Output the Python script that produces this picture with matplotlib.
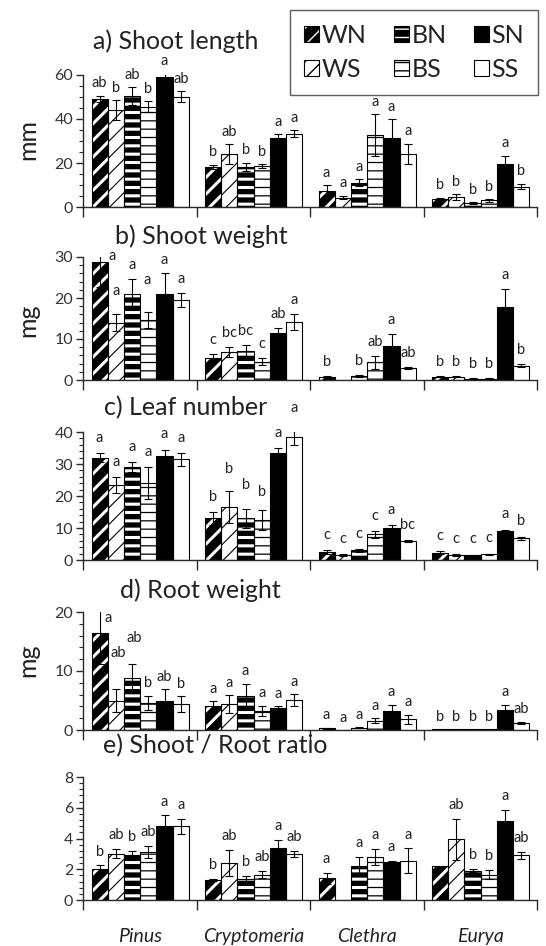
import matplotlib
matplotlib.use('Agg')
import matplotlib.pyplot as plt
from matplotlib.patches import Patch
from matplotlib.legend_handler import HandlerTuple
from matplotlib.ticker import MultipleLocator
import matplotlib.transforms as mtransforms

plt.rcParams['font.family'] = ['Lato', 'DejaVu Sans']

# ---------------- data ----------------
species = ['Pinus', 'Cryptomeria', 'Clethra', 'Eurya']
treatments = ['WN', 'WS', 'BN', 'BS', 'SN', 'SS']

# a) Shoot length (mm)  rows = species, cols = treatments
shoot_len = [[49, 44, 50.5, 45.5, 59, 50],
             [18.2, 24, 18.2, 18.5, 31.2, 33.4],
             [7.2, 4.3, 11.1, 32.7, 31.5, 24.2],
             [3.8, 4.6, 1.8, 3.0, 19.6, 9.3]]
shoot_len_err = [[1.5, 4.5, 4, 2.5, 1.5, 2.5],
                 [1, 4.5, 2, 1, 1.8, 1.5],
                 [2.6, 0.8, 1.5, 9.5, 8.4, 4.6],
                 [0.5, 1.2, 0.3, 0.5, 3.8, 1.3]]
shoot_len_lab = [['ab', 'b', 'ab', 'b', 'a', 'ab'],
                 ['b', 'ab', 'b', 'b', 'a', 'a'],
                 ['a', 'a', 'a', 'a', 'a', 'a'],
                 ['b', 'b', 'b', 'b', 'a', 'b']]

# b) Shoot weight (mg)
shoot_wt = [[28.8, 14, 20.9, 14.6, 21, 19.6],
            [5.3, 6.8, 7.1, 4.5, 11.4, 14.2],
            [0.8, 0, 1.0, 4.3, 8.4, 2.9],
            [0.8, 0.8, 0.3, 0.3, 17.7, 3.5]]
shoot_wt_err = [[6, 2, 3.7, 2, 5, 1.7],
                [1, 1.2, 1.5, 0.8, 1.3, 2],
                [0.2, 0, 0.2, 1.6, 2.8, 0.3],
                [0.1, 0.1, 0.1, 0.1, 4.6, 0.4]]
shoot_wt_lab = [['a', 'a', 'a', 'a', 'a', 'a'],
                ['c', 'bc', 'bc', 'c', 'ab', 'a'],
                ['b', '', 'b', 'ab', 'a', 'ab'],
                ['b', 'b', 'b', 'b', 'a', 'b']]

# c) Leaf number
leaf = [[32, 23.5, 29, 24, 32.5, 31.5],
        [13, 16.5, 13, 12.5, 33.5, 38.5],
        [2.5, 1.5, 3, 8, 10, 6],
        [2.3, 1.5, 1.5, 1.8, 9, 6.8]]
leaf_err = [[1.5, 2.5, 1.5, 5, 2, 2],
            [2, 5, 3, 3, 1.5, 2.5],
            [0.5, 0.3, 0.4, 1, 1, 0.3],
            [0.5, 0.3, 0.2, 0.2, 0.5, 0.5]]
leaf_lab = [['a', 'a', 'a', 'a', 'a', 'a'],
            ['b', 'b', 'b', 'b', 'a', 'a'],
            ['c', 'c', 'c', 'c', 'a', 'bc'],
            ['c', 'c', 'c', 'c', 'a', 'b']]

# d) Root weight (mg)
root = [[16.5, 5, 8.8, 4.6, 4.9, 4.4],
        [4.1, 4.4, 5.8, 3.2, 3.7, 5.1],
        [0.3, 0, 0.4, 1.6, 3.2, 1.8],
        [0.1, 0.1, 0.1, 0.1, 3.4, 1.2]]
root_err = [[5.3, 2, 2.4, 1.2, 2, 1.3],
            [0.8, 1.5, 2, 0.9, 0.3, 1],
            [0.1, 0, 0.1, 0.4, 1.1, 0.8],
            [0, 0, 0, 0, 0.9, 0.2]]
root_lab = [['a', 'ab', 'ab', 'b', 'ab', 'b'],
            ['a', 'a', 'a', 'a', 'a', 'a'],
            ['a', 'a', 'a', 'a', 'a', 'a'],
            ['b', 'b', 'b', 'b', 'a', 'ab']]

# e) Shoot / Root ratio
ratio = [[2.0, 3.0, 2.9, 3.1, 4.8, 4.8],
         [1.3, 2.4, 1.35, 1.65, 3.4, 3.0],
         [1.4, 0, 2.2, 2.8, 2.45, 2.55],
         [2.2, 3.95, 1.9, 1.65, 5.15, 2.9]]
ratio_err = [[0.25, 0.3, 0.3, 0.4, 0.7, 0.5],
             [0.05, 0.85, 0.2, 0.25, 0.5, 0.2],
             [0.35, 0, 0.6, 0.5, 0.1, 0.8],
             [0, 1.35, 0.1, 0.3, 0.7, 0.25]]
ratio_lab = [['b', 'ab', 'b', 'ab', 'a', 'a'],
             ['b', 'ab', 'b', 'ab', 'a', 'ab'],
             ['a', '', 'a', 'a', 'a', 'a'],
             ['', 'ab', 'b', 'b', 'a', 'ab']]

# ---------------- styling / layout ----------------
W, H = 546, 946
fig = plt.figure(figsize=(W / 100, H / 100), dpi=100)
fig.patch.set_facecolor('white')

def fx(px):
    return px / W

def fy(py):
    return 1 - py / H

AXC = '#2a2a2a'
TXT = '#222222'
styles = {
    'WN': dict(fc='black', hatch='//', hc='white', hlw=2.2),
    'WS': dict(fc='white', hatch='//', hc='black', hlw=0.8),
    'BN': dict(fc='black', hatch='--', hc='white', hlw=2.2),
    'BS': dict(fc='white', hatch='--', hc='black', hlw=0.9),
    'SN': dict(fc='black', hatch=None, hc='black', hlw=0.8),
    'SS': dict(fc='white', hatch=None, hc='white', hlw=0.8),
}

BAR_W = 0.143
BAR_START = 0.075
LAB_FS = 10.5

# panel: key, title, ylabel, vals, errs, labs, ymax, major, minor, y0px, ytoppx, title (x,y) px, ylabel y px, label offset pt
panels = [
    ('a', 'a) Shoot length', 'mm', shoot_len, shoot_len_err, shoot_len_lab, 60, 20, 5, 207, 75, (93, 41), 140, 9),
    ('b', 'b) Shoot weight', 'mg', shoot_wt, shoot_wt_err, shoot_wt_lab, 30, 10, 2, 380, 257, (115, 236), 320, 10),
    ('c', 'c) Leaf number', None, leaf, leaf_err, leaf_lab, 40, 10, 2, 560, 432, (104, 408), None, 11),
    ('d', 'd) Root weight', 'mg', root, root_err, root_lab, 20, 10, 2, 730, 612, (120, 590), 660, 9),
    ('e', 'e) Shoot / Root ratio', None, ratio, ratio_err, ratio_lab, 8, 2, 0.4, 900, 777, (103, 746), None, 10),
]

# manual label placement: (dx points, y value of label centre)
label_place = {
    ('b', 0, 0): (9, 30.3),
    ('b', 0, 1): (0, 21.8),
    ('b', 0, 3): (-1, 24.5),
    ('c', 1, 1): (0, 28.4),
    ('c', 1, 2): (0, 23.4),
    ('c', 1, 3): (0, 21.3),
    ('c', 1, 5): (0, 47.5),
    ('d', 0, 0): (6.5, 19.0),
    ('d', 0, 1): (2, 13.0),
    ('d', 0, 2): (1.5, 15.6),
}


def hatched_bar(ax, x, h, st):
    with plt.rc_context({'hatch.linewidth': st['hlw']}):
        bars = ax.bar(x, h, width=BAR_W, align='edge', color=st['fc'],
                      edgecolor=st['hc'], hatch=st['hatch'], linewidth=0, zorder=2)
        for p in bars:
            if hasattr(p, 'set_hatch_linewidth'):
                p.set_hatch_linewidth(st['hlw'])
    ax.bar(x, h, width=BAR_W, align='edge', fill=False, edgecolor='black',
           linewidth=0.8, zorder=3)


axes = []
for (key, title, ylab, vals, errs, labs, ymax, major, minor, y0, ytop,
     tpos, ylab_y, loff) in panels:
    ax = fig.add_axes([fx(83), fy(y0), fx(537) - fx(83), (y0 - ytop) / H])
    axes.append(ax)
    ax.set_xlim(0, 4)
    ax.set_ylim(0, ymax)
    for b, t in enumerate(treatments):
        st = styles[t]
        xs = [g + BAR_START + b * BAR_W for g in range(4)]
        hs = [vals[g][b] for g in range(4)]
        hatched_bar(ax, xs, hs, st)
        for g in range(4):
            xc = xs[g] + BAR_W / 2
            v = vals[g][b]
            e = errs[g][b]
            if v > 0 and e > 0:
                ax.errorbar([xc], [v], yerr=[e], fmt='none', ecolor='black',
                            elinewidth=0.8, capsize=3, capthick=0.8, zorder=4)
            lab = labs[g][b]
            if lab:
                if (key, g, b) in label_place:
                    dx, yv = label_place[(key, g, b)]
                    ax.annotate(lab, xy=(xc, yv), xytext=(dx, 0), textcoords='offset points',
                                ha='center', va='center', fontsize=LAB_FS, color=TXT,
                                annotation_clip=False)
                else:
                    ax.annotate(lab, xy=(xc, v + e), xytext=(0, loff), textcoords='offset points',
                                ha='center', va='center', fontsize=LAB_FS, color=TXT,
                                annotation_clip=False)
    for s in ['top', 'right']:
        ax.spines[s].set_visible(False)
    for s in ['left', 'bottom']:
        ax.spines[s].set_color(AXC)
        ax.spines[s].set_linewidth(1.0)
    ax.yaxis.set_major_locator(MultipleLocator(major))
    ax.yaxis.set_minor_locator(MultipleLocator(minor))
    ax.set_xticks([0, 1, 2, 3, 4])
    ax.tick_params(axis='x', which='major', direction='out', length=7, width=1.0,
                   color=AXC, labelbottom=False)
    ax.tick_params(axis='y', which='major', direction='out', length=5, width=1.0,
                   color=AXC, labelsize=11.5, labelcolor='#333', pad=2)
    ax.tick_params(axis='y', which='minor', direction='out', length=3, width=0.8, color=AXC)
    fig.text(fx(tpos[0]), fy(tpos[1]), title, ha='left', va='center', fontsize=18, color=TXT)
    if ylab:
        fig.text(fx(28), fy(ylab_y), ylab, rotation=90, ha='center', va='center',
                 fontsize=18, color=TXT)

# species labels under the last panel
axe = axes[-1]
trans = mtransforms.blended_transform_factory(axe.transData, axe.transAxes)
for g, name in enumerate(species):
    axe.text(g + 0.5, -0.30, name, transform=trans, ha='center', va='center',
             fontsize=14, style='italic', color=TXT)

# legend
handles = []
for t in treatments:
    st = styles[t]
    with plt.rc_context({'hatch.linewidth': st['hlw']}):
        p1 = Patch(facecolor=st['fc'], edgecolor=st['hc'], hatch=st['hatch'], linewidth=0)
        if hasattr(p1, 'set_hatch_linewidth'):
            p1.set_hatch_linewidth(st['hlw'])
    p2 = Patch(facecolor='none', edgecolor='black', linewidth=0.8)
    handles.append((p1, p2))
leg = fig.legend(handles, treatments, ncol=3, loc='upper right',
                 bbox_to_anchor=(fx(538), fy(10)), bbox_transform=fig.transFigure,
                 handler_map={tuple: HandlerTuple(ndivide=1, pad=0)},
                 fontsize=18, frameon=True, fancybox=False, edgecolor='#333',
                 borderpad=0.55, handlelength=0.58, handleheight=0.58, handletextpad=0.12,
                 columnspacing=1.1, labelspacing=0.45, borderaxespad=0)
leg.get_frame().set_linewidth(1.0)
for txt in leg.get_texts():
    txt.set_color(TXT)

fig.savefig('out.png', dpi=100, facecolor='white')
